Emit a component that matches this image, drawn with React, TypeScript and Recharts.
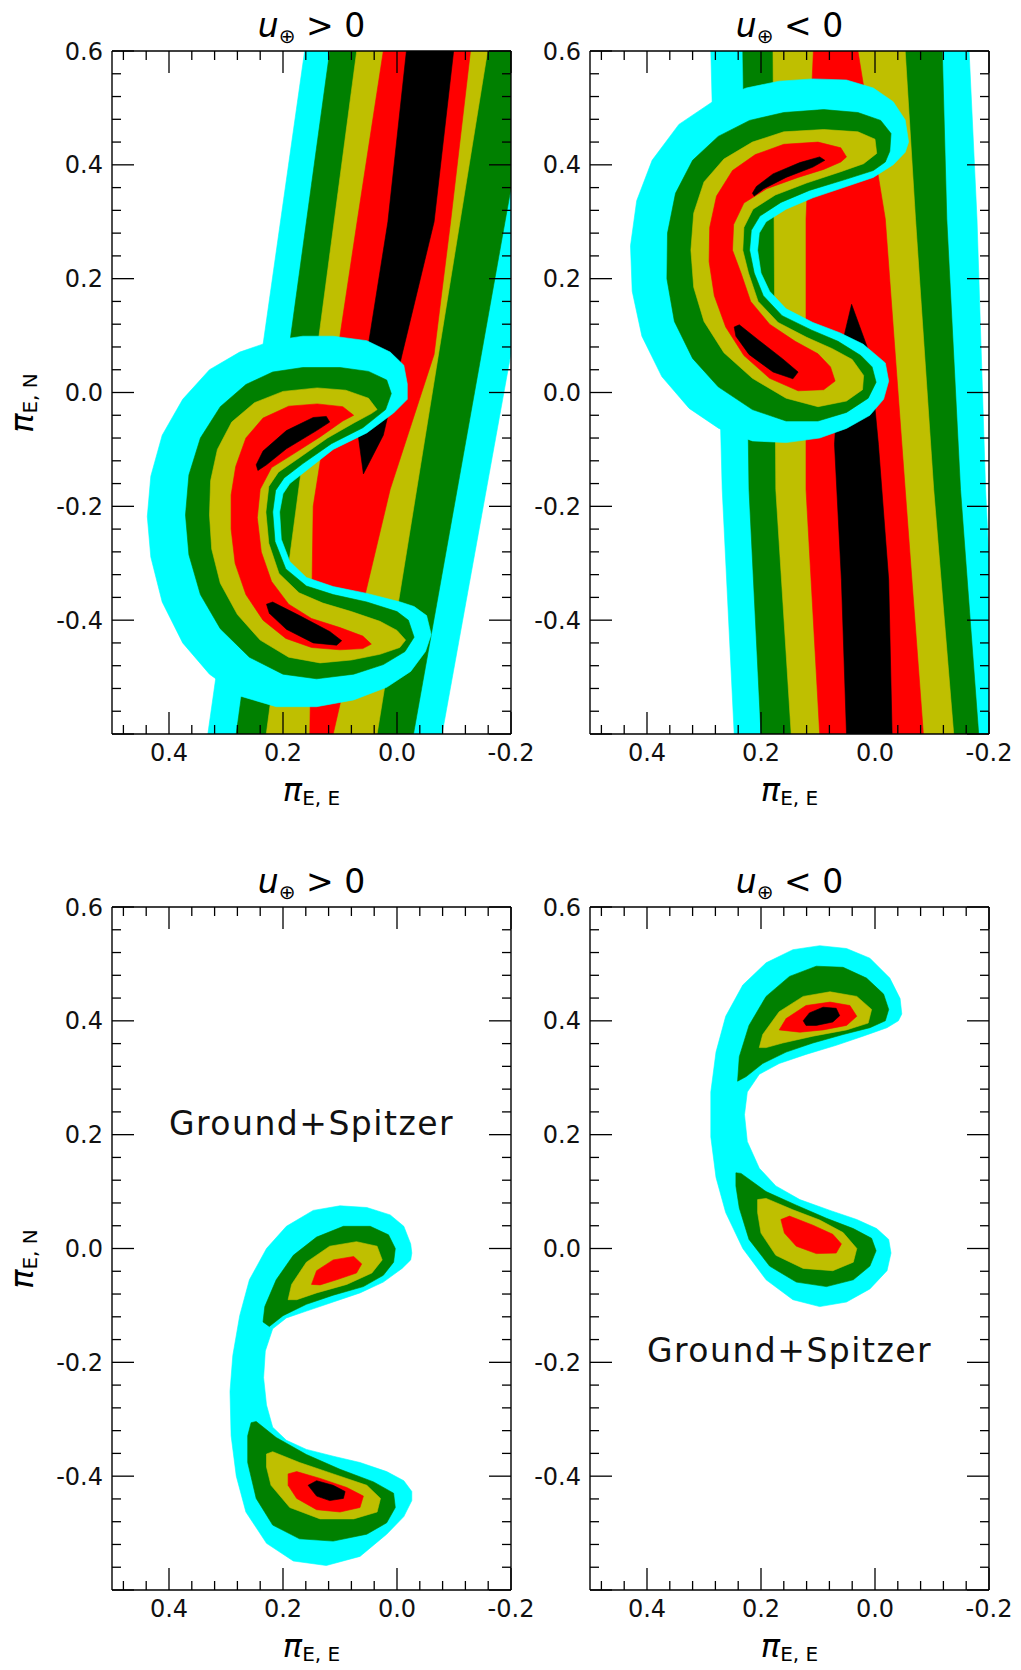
import React from "react";
import { ComposedChart, Scatter, XAxis, YAxis } from "recharts";

type Pt = [number, number];

const CYAN = "#00ffff";
const GREEN = "#008000";
const OLIVE = "#bfbf00";
const RED = "#ff0000";
const BLACK = "#000000";

// axis ticks (minor every 0.04, majors every 0.2)
const X_TICKS = [0.48, 0.44, 0.4, 0.36, 0.32, 0.28, 0.24, 0.2, 0.16, 0.12, 0.08, 0.04, 0, -0.04, -0.08, -0.12, -0.16, -0.2];
const Y_TICKS = [0.6, 0.56, 0.52, 0.48, 0.44, 0.4, 0.36, 0.32, 0.28, 0.24, 0.2, 0.16, 0.12, 0.08, 0.04, 0, -0.04, -0.08, -0.12, -0.16, -0.2, -0.24, -0.28, -0.32, -0.36, -0.4, -0.44, -0.48, -0.52, -0.56, -0.6];
const X_MAJOR = [0.4, 0.2, 0, -0.2];
const X_LABELED = [0.4, 0.2, 0, -0.2];
const Y_MAJOR = [0.6, 0.4, 0.2, 0, -0.2, -0.4, -0.6];
const Y_LABELED = [0.6, 0.4, 0.2, 0, -0.2, -0.4];

// ---- top left: u > 0, ground band + crescent ----
const TL_BAND_CYAN: Pt[] = [[0.155, 0.65], [0.339, -0.65], [-0.07, -0.65], [-0.305, 0.65]];
const TL_BAND_GREEN: Pt[] = [[0.111, 0.65], [0.289, -0.65], [-0.02, -0.65], [-0.252, 0.65]];
const TL_BAND_OLIVE: Pt[] = [[0.064, 0.65], [0.236, -0.65], [0.043, -0.65], [-0.167, 0.65]];
const TL_BAND_RED: Pt[] = [[0.02, 0.65], [0.024, 0.6], [0.07, 0.3], [0.1, 0.1], [0.147, -0.2], [0.153, -0.6], [0.154, -0.65], [0.116, -0.65], [0.112, -0.6], [0.059, -0.368], [0.012, -0.17], [-0.065, 0.067], [-0.094, 0.3], [-0.129, 0.6], [-0.133, 0.65]];
const TL_BAND_BLACK: Pt[] = [[-0.022, 0.65], [0.016, 0.3], [0.053, 0.067], [0.068, -0.075], [0.059, -0.143], [0.024, -0.075], [-0.009, 0.067], [-0.065, 0.3], [-0.105, 0.65]];

const TL_CRES_CYAN: Pt[] = [[-0.018, 0.015], [-0.012, 0.048], [0.012, 0.071], [0.053, 0.091], [0.112, 0.099], [0.165, 0.099], [0.218, 0.091], [0.276, 0.071], [0.329, 0.04], [0.376, -0.012], [0.412, -0.075], [0.432, -0.147], [0.438, -0.218], [0.432, -0.289], [0.412, -0.368], [0.376, -0.44], [0.329, -0.495], [0.276, -0.533], [0.212, -0.552], [0.141, -0.552], [0.076, -0.54], [0.018, -0.518], [-0.024, -0.49], [-0.05, -0.455], [-0.06, -0.425], [-0.052, -0.392], [-0.03, -0.376], [-0.006, -0.368], [0.053, -0.353], [0.112, -0.341], [0.159, -0.325], [0.188, -0.297], [0.203, -0.258], [0.206, -0.21], [0.2, -0.178], [0.188, -0.16], [0.159, -0.137], [0.112, -0.1], [0.053, -0.071], [0.006, -0.036], [-0.018, -0.012]];
const TL_CRES_GREEN: Pt[] = [[0.01, -0.002], [0.018, 0.022], [0.05, 0.037], [0.1, 0.044], [0.165, 0.044], [0.218, 0.036], [0.265, 0.014], [0.31, -0.025], [0.345, -0.08], [0.365, -0.145], [0.371, -0.215], [0.365, -0.285], [0.345, -0.355], [0.31, -0.415], [0.259, -0.465], [0.2, -0.495], [0.141, -0.503], [0.076, -0.495], [0.024, -0.478], [-0.014, -0.455], [-0.03, -0.43], [-0.02, -0.4], [0.0, -0.385], [0.053, -0.368], [0.112, -0.355], [0.159, -0.34], [0.195, -0.31], [0.214, -0.262], [0.218, -0.21], [0.213, -0.172], [0.198, -0.15], [0.165, -0.125], [0.115, -0.09], [0.06, -0.062], [0.02, -0.03]];
const TL_CRES_OLIVE: Pt[] = [[0.035, -0.03], [0.05, -0.01], [0.09, 0.004], [0.14, 0.008], [0.2, 0.002], [0.25, -0.018], [0.29, -0.052], [0.315, -0.1], [0.327, -0.155], [0.329, -0.215], [0.325, -0.275], [0.31, -0.335], [0.28, -0.39], [0.24, -0.435], [0.19, -0.465], [0.135, -0.475], [0.08, -0.47], [0.03, -0.46], [-0.005, -0.448], [-0.015, -0.435], [0.0, -0.418], [0.03, -0.402], [0.08, -0.385], [0.13, -0.37], [0.172, -0.352], [0.207, -0.318], [0.225, -0.265], [0.23, -0.21], [0.225, -0.165], [0.208, -0.14], [0.172, -0.115], [0.122, -0.08], [0.075, -0.053], [0.045, -0.037]];
const TL_CRES_RED: Pt[] = [[0.076, -0.04], [0.095, -0.025], [0.14, -0.02], [0.19, -0.024], [0.235, -0.045], [0.265, -0.08], [0.283, -0.13], [0.291, -0.18], [0.291, -0.24], [0.284, -0.3], [0.265, -0.355], [0.235, -0.4], [0.195, -0.432], [0.15, -0.448], [0.1, -0.452], [0.06, -0.45], [0.045, -0.442], [0.06, -0.428], [0.1, -0.413], [0.15, -0.397], [0.19, -0.372], [0.22, -0.332], [0.238, -0.28], [0.245, -0.22], [0.24, -0.17], [0.22, -0.132], [0.185, -0.11], [0.135, -0.078], [0.095, -0.05]];
const TL_CRES_BLACK_A: Pt[] = [[0.247, -0.127], [0.235, -0.103], [0.194, -0.067], [0.147, -0.044], [0.124, -0.042], [0.118, -0.052], [0.141, -0.067], [0.194, -0.099], [0.229, -0.127], [0.244, -0.137]];
const TL_CRES_BLACK_B: Pt[] = [[0.229, -0.372], [0.218, -0.368], [0.171, -0.392], [0.118, -0.42], [0.097, -0.436], [0.106, -0.444], [0.147, -0.44], [0.194, -0.416], [0.224, -0.388]];

// ---- top right: u < 0 ----
const TR_BAND_CYAN: Pt[] = [[0.292, 0.65], [0.288, 0.6], [0.268, -0.17], [0.247, -0.6], [0.244, -0.65], [-0.218, -0.65], [-0.215, -0.6], [-0.194, -0.17], [-0.179, 0.305], [-0.165, 0.6], [-0.162, 0.65]];
const TR_BAND_GREEN: Pt[] = [[0.236, 0.65], [0.232, 0.6], [0.221, -0.17], [0.2, -0.6], [0.197, -0.65], [-0.185, -0.65], [-0.182, -0.6], [-0.15, -0.17], [-0.126, 0.305], [-0.118, 0.6], [-0.116, 0.65]];
const TR_BAND_OLIVE: Pt[] = [[0.181, 0.65], [0.179, 0.6], [0.174, -0.17], [0.147, -0.6], [0.144, -0.65], [-0.141, -0.65], [-0.138, -0.6], [-0.103, -0.17], [-0.071, 0.305], [-0.053, 0.6], [-0.05, 0.65]];
const TR_BAND_RED: Pt[] = [[0.105, 0.65], [0.108, 0.6], [0.121, 0.305], [0.121, -0.17], [0.097, -0.6], [0.095, -0.65], [-0.088, -0.65], [-0.085, -0.6], [-0.053, -0.17], [-0.018, 0.305], [0.03, 0.6], [0.034, 0.65]];
const TR_BAND_BLACK: Pt[] = [[0.041, 0.155], [0.062, 0.067], [0.071, -0.091], [0.059, -0.329], [0.05, -0.6], [0.048, -0.65], [-0.033, -0.65], [-0.03, -0.6], [-0.024, -0.329], [-0.006, -0.091], [0.009, 0.067]];

const TR_CRES_CYAN: Pt[] = [[-0.059, 0.44], [-0.053, 0.479], [-0.032, 0.511], [0.003, 0.535], [0.05, 0.549], [0.109, 0.551], [0.168, 0.547], [0.226, 0.535], [0.285, 0.511], [0.344, 0.471], [0.391, 0.408], [0.418, 0.337], [0.429, 0.258], [0.426, 0.178], [0.409, 0.099], [0.374, 0.028], [0.326, -0.028], [0.274, -0.063], [0.215, -0.085], [0.156, -0.088], [0.097, -0.08], [0.05, -0.063], [0.009, -0.04], [-0.015, -0.012], [-0.024, 0.02], [-0.018, 0.052], [0.003, 0.07], [0.021, 0.085], [0.062, 0.105], [0.109, 0.123], [0.156, 0.147], [0.185, 0.178], [0.2, 0.21], [0.206, 0.25], [0.203, 0.28], [0.191, 0.3], [0.156, 0.322], [0.109, 0.342], [0.05, 0.362], [0.003, 0.378], [-0.032, 0.4], [-0.053, 0.422]];
const TR_CRES_GREEN: Pt[] = [[-0.026, 0.424], [-0.028, 0.455], [-0.01, 0.478], [0.03, 0.492], [0.09, 0.497], [0.16, 0.492], [0.22, 0.478], [0.275, 0.45], [0.32, 0.408], [0.35, 0.35], [0.364, 0.28], [0.365, 0.2], [0.352, 0.125], [0.32, 0.06], [0.275, 0.01], [0.215, -0.03], [0.156, -0.05], [0.1, -0.05], [0.05, -0.035], [0.012, -0.01], [-0.002, 0.018], [0.005, 0.045], [0.025, 0.065], [0.065, 0.09], [0.112, 0.11], [0.163, 0.135], [0.196, 0.17], [0.212, 0.21], [0.22, 0.25], [0.217, 0.285], [0.202, 0.31], [0.165, 0.334], [0.115, 0.355], [0.05, 0.375], [0.003, 0.39], [-0.018, 0.405]];
const TR_CRES_OLIVE: Pt[] = [[-0.003, 0.42], [0.0, 0.445], [0.03, 0.458], [0.09, 0.462], [0.16, 0.458], [0.215, 0.44], [0.265, 0.41], [0.3, 0.37], [0.318, 0.315], [0.323, 0.25], [0.318, 0.185], [0.3, 0.125], [0.265, 0.07], [0.215, 0.025], [0.156, -0.01], [0.1, -0.025], [0.05, -0.015], [0.022, 0.005], [0.02, 0.03], [0.04, 0.058], [0.075, 0.077], [0.12, 0.097], [0.17, 0.123], [0.205, 0.16], [0.222, 0.21], [0.232, 0.25], [0.23, 0.29], [0.214, 0.322], [0.175, 0.347], [0.12, 0.368], [0.06, 0.388], [0.02, 0.402]];
const TR_CRES_RED: Pt[] = [[0.05, 0.414], [0.06, 0.43], [0.1, 0.44], [0.16, 0.436], [0.21, 0.418], [0.25, 0.39], [0.278, 0.345], [0.29, 0.29], [0.291, 0.23], [0.282, 0.17], [0.262, 0.115], [0.23, 0.065], [0.185, 0.025], [0.135, 0.003], [0.09, 0.005], [0.07, 0.02], [0.078, 0.045], [0.1, 0.068], [0.14, 0.09], [0.185, 0.12], [0.218, 0.16], [0.235, 0.21], [0.25, 0.25], [0.248, 0.295], [0.23, 0.333], [0.19, 0.358], [0.135, 0.378], [0.09, 0.392], [0.06, 0.405]];
const TR_CRES_BLACK_A: Pt[] = [[0.215, 0.35], [0.208, 0.362], [0.179, 0.384], [0.132, 0.404], [0.097, 0.414], [0.088, 0.408], [0.109, 0.396], [0.156, 0.378], [0.195, 0.358], [0.212, 0.345]];
const TR_CRES_BLACK_B: Pt[] = [[0.247, 0.115], [0.238, 0.119], [0.203, 0.091], [0.162, 0.059], [0.135, 0.036], [0.144, 0.024], [0.179, 0.036], [0.221, 0.067], [0.244, 0.099]];

// ---- bottom left: ground+spitzer, u > 0 ----
const BL_CYAN: Pt[] = [[-0.026, -0.008], [-0.024, 0.008], [-0.012, 0.039], [0.012, 0.059], [0.053, 0.072], [0.1, 0.075], [0.147, 0.067], [0.194, 0.039], [0.229, 0.0], [0.259, -0.055], [0.276, -0.118], [0.288, -0.188], [0.293, -0.251], [0.291, -0.329], [0.282, -0.4], [0.265, -0.463], [0.229, -0.518], [0.182, -0.549], [0.124, -0.557], [0.065, -0.541], [0.018, -0.502], [-0.012, -0.471], [-0.026, -0.443], [-0.026, -0.427], [-0.012, -0.408], [0.018, -0.392], [0.065, -0.376], [0.112, -0.365], [0.159, -0.353], [0.194, -0.337], [0.218, -0.314], [0.229, -0.275], [0.234, -0.227], [0.231, -0.18], [0.218, -0.141], [0.194, -0.122], [0.159, -0.11], [0.112, -0.094], [0.065, -0.078], [0.024, -0.059], [-0.009, -0.035], [-0.024, -0.02]];
const BL_GREEN_A: Pt[] = [[0.235, -0.129], [0.232, -0.102], [0.212, -0.055], [0.182, -0.012], [0.141, 0.02], [0.094, 0.039], [0.047, 0.039], [0.015, 0.024], [0.003, 0.0], [0.006, -0.024], [0.024, -0.047], [0.059, -0.067], [0.112, -0.082], [0.159, -0.098], [0.2, -0.118], [0.224, -0.137]];
const BL_OLIVE_A: Pt[] = [[0.191, -0.09], [0.185, -0.063], [0.159, -0.024], [0.118, 0.004], [0.071, 0.012], [0.035, 0.004], [0.026, -0.02], [0.044, -0.043], [0.088, -0.063], [0.141, -0.078], [0.176, -0.09]];
const BL_RED_A: Pt[] = [[0.15, -0.063], [0.141, -0.039], [0.112, -0.02], [0.076, -0.014], [0.062, -0.027], [0.071, -0.043], [0.106, -0.055], [0.135, -0.064]];
const BL_GREEN_B: Pt[] = [[0.256, -0.306], [0.247, -0.304], [0.212, -0.332], [0.159, -0.362], [0.1, -0.388], [0.041, -0.41], [0.006, -0.43], [0.003, -0.455], [0.018, -0.482], [0.053, -0.502], [0.112, -0.514], [0.171, -0.51], [0.218, -0.486], [0.247, -0.439], [0.262, -0.376], [0.262, -0.329]];
const BL_OLIVE_B: Pt[] = [[0.229, -0.361], [0.218, -0.357], [0.171, -0.376], [0.112, -0.396], [0.053, -0.416], [0.029, -0.439], [0.035, -0.463], [0.076, -0.475], [0.135, -0.475], [0.188, -0.455], [0.221, -0.416], [0.229, -0.384]];
const BL_RED_B: Pt[] = [[0.191, -0.396], [0.176, -0.392], [0.135, -0.404], [0.088, -0.42], [0.059, -0.435], [0.065, -0.455], [0.1, -0.463], [0.141, -0.459], [0.176, -0.439], [0.191, -0.416]];
const BL_BLACK_B: Pt[] = [[0.156, -0.416], [0.141, -0.408], [0.112, -0.416], [0.091, -0.427], [0.094, -0.439], [0.118, -0.443], [0.141, -0.435]];

// ---- bottom right: ground+spitzer, u < 0 ----
const BR_CYAN: Pt[] = [[-0.047, 0.412], [-0.044, 0.439], [-0.026, 0.475], [0.009, 0.51], [0.05, 0.527], [0.097, 0.532], [0.144, 0.525], [0.191, 0.502], [0.232, 0.463], [0.262, 0.408], [0.279, 0.345], [0.288, 0.275], [0.288, 0.196], [0.279, 0.125], [0.262, 0.063], [0.232, 0.0], [0.191, -0.055], [0.144, -0.09], [0.097, -0.102], [0.05, -0.094], [0.009, -0.071], [-0.021, -0.039], [-0.028, -0.008], [-0.024, 0.016], [-0.003, 0.035], [0.032, 0.051], [0.079, 0.067], [0.132, 0.086], [0.174, 0.11], [0.203, 0.141], [0.224, 0.188], [0.229, 0.235], [0.224, 0.275], [0.203, 0.306], [0.168, 0.325], [0.121, 0.341], [0.068, 0.357], [0.021, 0.373], [-0.021, 0.388], [-0.041, 0.4]];
const BR_GREEN_A: Pt[] = [[0.241, 0.294], [0.238, 0.337], [0.221, 0.392], [0.191, 0.443], [0.15, 0.478], [0.103, 0.496], [0.056, 0.494], [0.015, 0.475], [-0.015, 0.447], [-0.024, 0.42], [-0.018, 0.4], [0.009, 0.388], [0.056, 0.376], [0.109, 0.361], [0.156, 0.345], [0.197, 0.325], [0.226, 0.302]];
const BR_OLIVE_A: Pt[] = [[0.203, 0.353], [0.197, 0.376], [0.168, 0.416], [0.126, 0.443], [0.079, 0.451], [0.032, 0.443], [0.006, 0.42], [0.012, 0.396], [0.05, 0.384], [0.109, 0.373], [0.162, 0.361], [0.191, 0.353]];
const BR_RED_A: Pt[] = [[0.168, 0.384], [0.156, 0.404], [0.121, 0.427], [0.079, 0.433], [0.044, 0.427], [0.032, 0.408], [0.05, 0.392], [0.091, 0.384], [0.132, 0.38]];
const BR_BLACK_A: Pt[] = [[0.126, 0.4], [0.115, 0.414], [0.091, 0.424], [0.068, 0.422], [0.062, 0.409], [0.074, 0.398], [0.103, 0.392], [0.121, 0.392]];
const BR_GREEN_B: Pt[] = [[0.244, 0.133], [0.235, 0.132], [0.191, 0.1], [0.138, 0.076], [0.085, 0.053], [0.038, 0.035], [0.006, 0.018], [-0.002, -0.004], [0.009, -0.031], [0.038, -0.055], [0.085, -0.067], [0.138, -0.059], [0.185, -0.031], [0.221, 0.016], [0.238, 0.071], [0.244, 0.11]];
const BR_OLIVE_B: Pt[] = [[0.206, 0.086], [0.191, 0.088], [0.144, 0.068], [0.097, 0.05], [0.056, 0.028], [0.032, 0.0], [0.038, -0.024], [0.074, -0.039], [0.126, -0.035], [0.174, -0.012], [0.2, 0.027], [0.206, 0.063]];
const BR_RED_B: Pt[] = [[0.165, 0.051], [0.15, 0.057], [0.109, 0.041], [0.074, 0.025], [0.059, 0.008], [0.068, -0.008], [0.103, -0.009], [0.138, 0.004], [0.159, 0.027]];

const NOTE_TEXT = "Ground+Spitzer";
const BL_NOTE = [{ x: 0.15, y: 0.2 }];
const BR_NOTE = [{ x: 0.15, y: -0.2 }];

type Layer = { fill: string; pts: Pt[] };

const TL_LAYERS: Layer[] = [
  { fill: CYAN, pts: TL_BAND_CYAN },
  { fill: GREEN, pts: TL_BAND_GREEN },
  { fill: OLIVE, pts: TL_BAND_OLIVE },
  { fill: RED, pts: TL_BAND_RED },
  { fill: BLACK, pts: TL_BAND_BLACK },
  { fill: CYAN, pts: TL_CRES_CYAN },
  { fill: GREEN, pts: TL_CRES_GREEN },
  { fill: OLIVE, pts: TL_CRES_OLIVE },
  { fill: RED, pts: TL_CRES_RED },
  { fill: BLACK, pts: TL_CRES_BLACK_A },
  { fill: BLACK, pts: TL_CRES_BLACK_B },
];
const TR_LAYERS: Layer[] = [
  { fill: CYAN, pts: TR_BAND_CYAN },
  { fill: GREEN, pts: TR_BAND_GREEN },
  { fill: OLIVE, pts: TR_BAND_OLIVE },
  { fill: RED, pts: TR_BAND_RED },
  { fill: BLACK, pts: TR_BAND_BLACK },
  { fill: CYAN, pts: TR_CRES_CYAN },
  { fill: GREEN, pts: TR_CRES_GREEN },
  { fill: OLIVE, pts: TR_CRES_OLIVE },
  { fill: RED, pts: TR_CRES_RED },
  { fill: BLACK, pts: TR_CRES_BLACK_A },
  { fill: BLACK, pts: TR_CRES_BLACK_B },
];
const BL_LAYERS: Layer[] = [
  { fill: CYAN, pts: BL_CYAN },
  { fill: GREEN, pts: BL_GREEN_A },
  { fill: GREEN, pts: BL_GREEN_B },
  { fill: OLIVE, pts: BL_OLIVE_A },
  { fill: OLIVE, pts: BL_OLIVE_B },
  { fill: RED, pts: BL_RED_A },
  { fill: RED, pts: BL_RED_B },
  { fill: BLACK, pts: BL_BLACK_B },
];
const BR_LAYERS: Layer[] = [
  { fill: CYAN, pts: BR_CYAN },
  { fill: GREEN, pts: BR_GREEN_A },
  { fill: GREEN, pts: BR_GREEN_B },
  { fill: OLIVE, pts: BR_OLIVE_A },
  { fill: OLIVE, pts: BR_OLIVE_B },
  { fill: RED, pts: BR_RED_A },
  { fill: RED, pts: BR_RED_B },
  { fill: BLACK, pts: BR_BLACK_A },
];

// chart geometry (plot box inside each chart)
const CW = 543;
const CH = 829;
const PL = 112;
const PT = 51;
const PR = 511;
const PB = 734;
const FONT = "DejaVu Sans";

const has = (list: number[], v: number) => list.some((m) => Math.abs(m - v) < 1e-6);
const toXY = (pts: Pt[]) => pts.map(([x, y]) => ({ x, y }));

function Poly(props: any) {
  const pts: { x: number; y: number }[] = props.points || [];
  if (!pts.length) return null;
  const d = pts.map((p, i) => `${i ? "L" : "M"}${p.x.toFixed(1)},${p.y.toFixed(1)}`).join(" ") + " Z";
  return <path d={d} fill={props.paint} stroke={props.paint} strokeWidth={0.6} />;
}

const NoDot = () => <g />;

const NoteText = (p: any) => (
  <text x={p.cx} y={p.cy} textAnchor="middle" fontFamily={FONT} fontSize={33} letterSpacing={1.5} fill="#111">
    {NOTE_TEXT}
  </text>
);

function BottomTick(props: any) {
  const { x, payload } = props;
  const v = payload.value;
  const len = has(X_MAJOR, v) ? 22 : 9;
  return (
    <g>
      <line x1={x} x2={x} y1={PB} y2={PB - len} stroke="#000" strokeWidth={1.3} />
      {has(X_LABELED, v) && (
        <text x={x} y={PB + 27} textAnchor="middle" fontFamily={FONT} fontSize={24} fill="#111">
          {v.toFixed(1)}
        </text>
      )}
    </g>
  );
}

function TopTick(props: any) {
  const { x, payload } = props;
  const len = has(X_MAJOR, payload.value) ? 22 : 9;
  return <line x1={x} x2={x} y1={PT} y2={PT + len} stroke="#000" strokeWidth={1.3} />;
}

function LeftTick(props: any) {
  const { y, payload } = props;
  const v = payload.value;
  const len = has(Y_MAJOR, v) ? 22 : 9;
  return (
    <g>
      <line x1={PL} x2={PL + len} y1={y} y2={y} stroke="#000" strokeWidth={1.3} />
      {has(Y_LABELED, v) && (
        <text x={PL - 9} y={y + 8.5} textAnchor="end" fontFamily={FONT} fontSize={24} fill="#111">
          {v.toFixed(1)}
        </text>
      )}
    </g>
  );
}

function RightTick(props: any) {
  const { y, payload } = props;
  const len = has(Y_MAJOR, payload.value) ? 22 : 9;
  return <line x1={PR - len} x2={PR} y1={y} y2={y} stroke="#000" strokeWidth={1.3} />;
}

const AXIS_LINE = { stroke: "#000", strokeWidth: 1.4 };

function Panel({ layers, note, left, top }: { layers: Layer[]; note?: { x: number; y: number }[]; left: number; top: number }) {
  return (
    <div style={{ position: "absolute", left, top }}>
      <ComposedChart width={CW} height={CH} margin={{ top: 50, right: CW - PR - 1, bottom: 35, left: 32 }}>
        {layers.map((l, i) => (
          <Scatter
            key={i}
            xAxisId="b"
            yAxisId="l"
            data={toXY(l.pts)}
            line={<Poly paint={l.fill} />}
            lineType="joint"
            shape={NoDot}
            isAnimationActive={false}
            zIndex={50}
          />
        ))}
        {note && (
          <Scatter xAxisId="b" yAxisId="l" data={note} shape={NoteText} isAnimationActive={false} zIndex={60} />
        )}
        <XAxis xAxisId="b" type="number" dataKey="x" domain={[-0.2, 0.5]} reversed allowDataOverflow ticks={X_TICKS} interval={0} height={60} tickLine={false} axisLine={AXIS_LINE} tick={BottomTick} />
        <XAxis xAxisId="t" orientation="top" type="number" dataKey="x" domain={[-0.2, 0.5]} reversed allowDataOverflow ticks={X_TICKS} interval={0} height={1} tickLine={false} axisLine={AXIS_LINE} tick={TopTick} />
        <YAxis yAxisId="l" type="number" dataKey="y" domain={[-0.6, 0.6]} allowDataOverflow ticks={Y_TICKS} interval={0} width={80} tickLine={false} axisLine={AXIS_LINE} tick={LeftTick} />
        <YAxis yAxisId="r" orientation="right" type="number" dataKey="y" domain={[-0.6, 0.6]} allowDataOverflow ticks={Y_TICKS} interval={0} width={1} tickLine={false} axisLine={AXIS_LINE} tick={RightTick} />
      </ComposedChart>
    </div>
  );
}

function Title({ cx, y, op }: { cx: number; y: number; op: string }) {
  return (
    <text x={cx} y={y} textAnchor="middle" fontFamily={FONT} fontSize={33} fill="#000">
      <tspan fontStyle="italic">u</tspan>
      <tspan fontSize={20} dy={6}>⊕</tspan>
      <tspan dy={-6}>{"\u00a0" + op + "\u00a00"}</tspan>
    </text>
  );
}

function PiLabel({ sub }: { sub: string }) {
  return (
    <>
      <tspan fontStyle="italic" fontSize={32}>π</tspan>
      <tspan fontSize={20} dy={4}>{sub}</tspan>
    </>
  );
}

export default function App() {
  return (
    <div style={{ position: "absolute", left: 0, top: 0, width: 1021, height: 1670, background: "#fff", overflow: "hidden" }}>
      <Panel layers={TL_LAYERS} left={0} top={0} />
      <Panel layers={TR_LAYERS} left={478} top={0} />
      <Panel layers={BL_LAYERS} note={BL_NOTE} left={0} top={856} />
      <Panel layers={BR_LAYERS} note={BR_NOTE} left={478} top={856} />
      <svg width={1021} height={1670} style={{ position: "absolute", left: 0, top: 0, pointerEvents: "none" }}>
        <Title cx={311.5} y={37} op=">" />
        <Title cx={789.5} y={37} op="<" />
        <Title cx={311.5} y={893} op=">" />
        <Title cx={789.5} y={893} op="<" />
        <text x={311.5} y={801} textAnchor="middle" fontFamily={FONT} fill="#000"><PiLabel sub="E, E" /></text>
        <text x={789.5} y={801} textAnchor="middle" fontFamily={FONT} fill="#000"><PiLabel sub="E, E" /></text>
        <text x={311.5} y={1657} textAnchor="middle" fontFamily={FONT} fill="#000"><PiLabel sub="E, E" /></text>
        <text x={789.5} y={1657} textAnchor="middle" fontFamily={FONT} fill="#000"><PiLabel sub="E, E" /></text>
        <g transform="translate(33, 403) rotate(-90)">
          <text x={0} y={0} textAnchor="middle" fontFamily={FONT} fill="#000"><PiLabel sub="E, N" /></text>
        </g>
        <g transform="translate(33, 1259) rotate(-90)">
          <text x={0} y={0} textAnchor="middle" fontFamily={FONT} fill="#000"><PiLabel sub="E, N" /></text>
        </g>
      </svg>
    </div>
  );
}
